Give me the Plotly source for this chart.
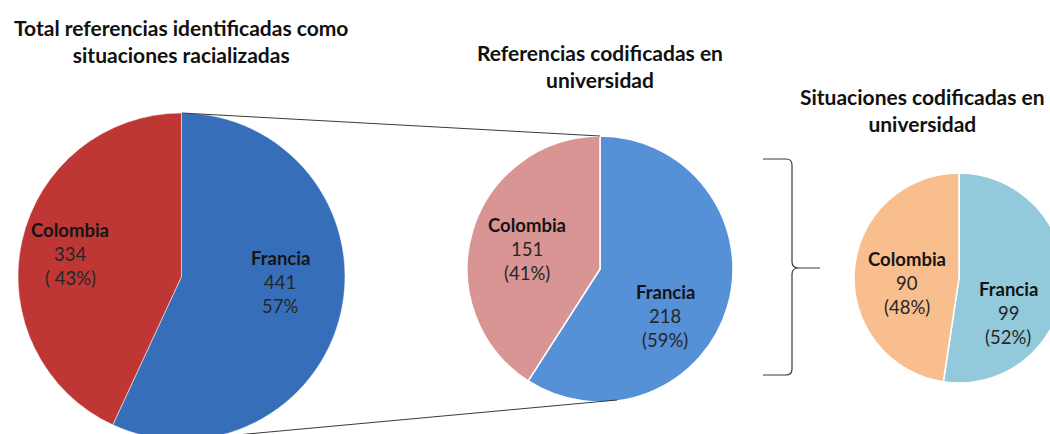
import plotly.graph_objects as go

# ---- data ----
categories = ["Francia", "Colombia"]
values_total = [441, 334]
values_ref_univ = [218, 151]
values_sit_univ = [99, 90]
pct_total = ["57%", "( 43%)"]
pct_ref_univ = ["(59%)", "(41%)"]
pct_sit_univ = ["(52%)", "(48%)"]
titles = [
    "Total referencias identificadas como<br>situaciones racializadas",
    "Referencias codificadas en<br>universidad",
    "Situaciones codificadas en<br>universidad",
]

W, H = 1064, 440
FONT = "Lato"


def px(x):
    return x / W


def py(y):
    return 1 - y / H


def dom(cx, cy, r):
    return dict(x=[px(cx - r), px(cx + r)], y=[py(cy + r), py(cy - r)])


pies = [
    dict(values=values_total, pct=pct_total, c=(181.5, 276.5), r=163.5,
         colors=["#376EB9", "#BE3735"], lw=0.5,
         lab_pos={"Francia": (280, 258), "Colombia": (70, 230)}),
    dict(values=values_ref_univ, pct=pct_ref_univ, c=(600, 269), r=133,
         colors=["#5690D6", "#D99594"], lw=1.5,
         lab_pos={"Francia": (665, 292), "Colombia": (527, 225)}),
    dict(values=values_sit_univ, pct=pct_sit_univ, c=(959, 278), r=105,
         colors=["#92CADC", "#F8BE8E"], lw=1.5,
         lab_pos={"Francia": (1008, 289), "Colombia": (907, 259)}),
]

fig = go.Figure()
annotations = []
for p in pies:
    fig.add_trace(go.Pie(
        labels=categories, values=p["values"], sort=False, direction="clockwise",
        rotation=0, domain=dom(p["c"][0], p["c"][1], p["r"]),
        marker=dict(colors=p["colors"], line=dict(color="white", width=p["lw"])),
        textinfo="none", hoverinfo="label+value+percent", showlegend=False,
    ))
    for cat, val, pc in zip(categories, p["values"], p["pct"]):
        x, y = p["lab_pos"][cat]
        lines = [(f"<b>{cat}</b>", "#141414"), (str(val), "#262626"), (pc, "#262626")]
        for i, (t, col) in enumerate(lines):
            annotations.append(dict(
                x=px(x), y=py(y + 24 * i), xref="paper", yref="paper", text=t,
                showarrow=False, xanchor="center", yanchor="middle",
                font=dict(family=FONT, size=18.5, color=col)))

title_pos = [(181, 41), (600, 66), (923, 109.5)]
for t, (x, y) in zip(titles, title_pos):
    annotations.append(dict(
        x=px(x), y=py(y), xref="paper", yref="paper", text=f"<b>{t}</b>",
        showarrow=False, xanchor="center", yanchor="middle", align="center",
        font=dict(family=FONT, size=21, color="#111111")))

line_style = dict(color="#3a3a3a", width=1)
shapes = [
    dict(type="line", xref="paper", yref="paper", x0=px(182), y0=py(113),
         x1=px(600), y1=py(136), line=line_style),
    dict(type="line", xref="paper", yref="paper", x0=px(182), y0=py(440),
         x1=px(617), y1=py(400), line=line_style),
]

brace_pts = [
    ("M", [(763, 159)]), ("L", [(786, 159)]), ("Q", [(792, 159), (792, 165)]),
    ("L", [(792, 262)]), ("Q", [(792, 268), (799, 268)]), ("L", [(820, 268)]),
    ("M", [(799, 268)]), ("Q", [(792, 268), (792, 274)]), ("L", [(792, 369)]),
    ("Q", [(792, 375), (786, 375)]), ("L", [(763, 375)]),
]
path = " ".join(cmd + " " + " ".join(f"{px(x):.5f},{py(y):.5f}" for x, y in pts)
                for cmd, pts in brace_pts)
shapes.append(dict(type="path", xref="paper", yref="paper", path=path,
                   line=dict(color="#3a3a3a", width=1.2)))

fig.update_layout(
    width=W, height=H, margin=dict(l=0, r=0, t=0, b=0),
    paper_bgcolor="white", plot_bgcolor="white",
    annotations=annotations, shapes=shapes,
    font=dict(family=FONT),
)

fig.write_html(
    "out.html",
    config={"displayModeBar": False},
    post_script="document.body.style.margin='0';document.body.style.overflow='hidden';",
)
